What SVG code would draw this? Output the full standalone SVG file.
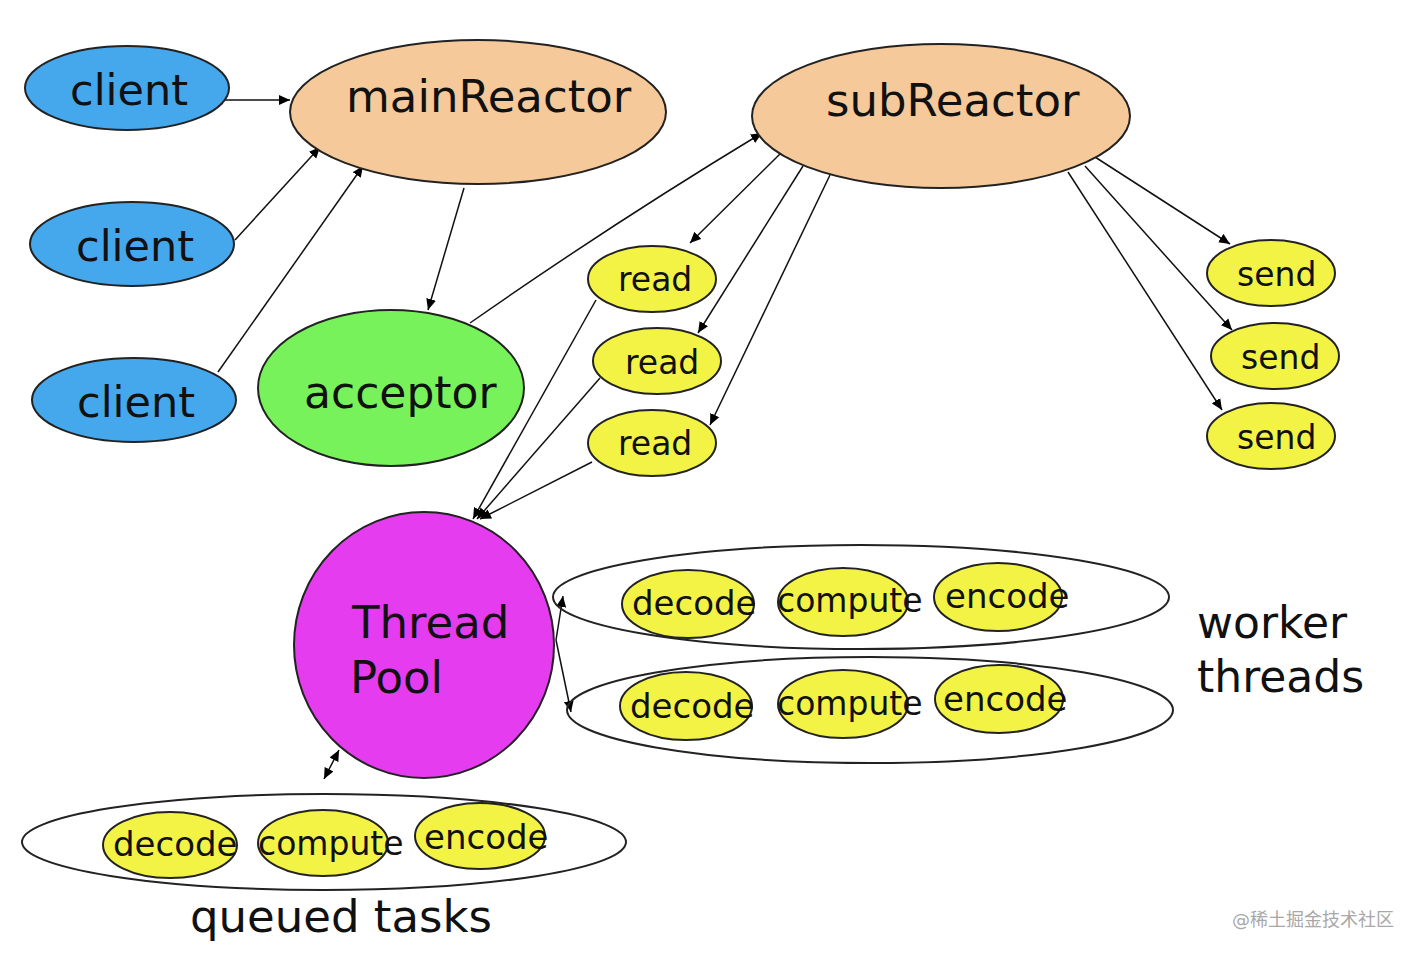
<svg xmlns="http://www.w3.org/2000/svg" width="1418" height="956" viewBox="0 0 1418 956">
<defs>
<marker id="ah" viewBox="0 0 10 10" refX="10" refY="5" markerWidth="11" markerHeight="11" markerUnits="userSpaceOnUse" orient="auto-start-reverse">
<path d="M0,0.5 L10,5 L0,9.5 Z" fill="#000"/>
</marker>
<style>
text{font-family:"DejaVu Sans","Liberation Sans",sans-serif;fill:#111}
.big{font-size:45px}
.mid{font-size:33px}
.sm{font-size:34px}
.n{stroke:#222;stroke-width:2}
.client{fill:#45a8ec}
.reactor{fill:#f5c99a}
.acc{fill:#78f25a}
.y{fill:#f3f345}
.tp{fill:#e63cf0}
.grp{fill:none;stroke:#222;stroke-width:2}
.c{fill:none;stroke:#111;stroke-width:1.5;marker-end:url(#ah)}
</style>
</defs>
<rect width="1418" height="956" fill="#fff"/>

<g id="connectors">
<path class="c" d="M216,100 L290,100"/>
<path class="c" d="M235,240 L320,147"/>
<path class="c" d="M218,372 L363,166"/>
<path class="c" d="M464,188 L428,310"/>
<path class="c" d="M470,323 Q610,225 762,133"/>
<path class="c" d="M782,152 L690,243"/>
<path class="c" d="M803,166 L698,333"/>
<path class="c" d="M830,175 L710,425"/>
<path class="c" d="M1095,157 L1230,244"/>
<path class="c" d="M1085,166 L1232,330"/>
<path class="c" d="M1068,172 L1222,410"/>
<path class="c" d="M596,300 L473,519"/>
<path class="c" d="M600,378 L477,519"/>
<path class="c" d="M592,462 L480,519"/>
<path class="c" d="M556,640 L563,596"/>
<path class="c" d="M556,640 L571,712"/>
<path class="c" style="marker-start:url(#ah)" d="M339,750 L324,779"/>
</g>

<g id="client1"><ellipse class="n client" cx="127" cy="88" rx="102" ry="42"/><text class="big" x="70" y="105" style="font-size:43px">client</text></g>
<g id="client2"><ellipse class="n client" cx="132" cy="244" rx="102" ry="42"/><text class="big" x="76" y="261" style="font-size:43px">client</text></g>
<g id="client3"><ellipse class="n client" cx="134" cy="400" rx="102" ry="42"/><text class="big" x="77" y="417" style="font-size:43px">client</text></g>

<g id="mainReactor"><ellipse class="n reactor" cx="478" cy="112" rx="188" ry="72"/><text class="big" x="346" y="112">mainReactor</text></g>
<g id="subReactor"><ellipse class="n reactor" cx="941" cy="116" rx="189" ry="72"/><text class="big" x="826" y="116">subReactor</text></g>

<g id="acceptor"><ellipse class="n acc" cx="391" cy="388" rx="133" ry="78"/><text class="big" x="304" y="408" style="font-size:44px">acceptor</text></g>

<g id="read1"><ellipse class="n y" cx="652" cy="279" rx="64" ry="33"/><text class="mid" x="618" y="291">read</text></g>
<g id="read2"><ellipse class="n y" cx="657" cy="361" rx="64" ry="33"/><text class="mid" x="625" y="374">read</text></g>
<g id="read3"><ellipse class="n y" cx="652" cy="443" rx="64" ry="33"/><text class="mid" x="618" y="455">read</text></g>

<g id="send1"><ellipse class="n y" cx="1271" cy="273" rx="64" ry="33"/><text class="mid" x="1237" y="286">send</text></g>
<g id="send2"><ellipse class="n y" cx="1275" cy="356" rx="64" ry="33"/><text class="mid" x="1241" y="369">send</text></g>
<g id="send3"><ellipse class="n y" cx="1271" cy="436" rx="64" ry="33"/><text class="mid" x="1237" y="449">send</text></g>

<g id="threadPool"><ellipse class="n tp" cx="424" cy="645" rx="130" ry="133"/><text class="big" x="352" y="638">Thread</text><text class="big" x="350" y="693">Pool</text></g>

<g id="worker1">
<ellipse class="grp" cx="861" cy="597" rx="308" ry="52"/>
<ellipse class="n y" cx="688" cy="604" rx="66" ry="34"/>
<ellipse class="n y" cx="843" cy="602" rx="65" ry="34"/>
<ellipse class="n y" cx="998" cy="597" rx="64" ry="34"/>
<text class="sm" x="632" y="615">decode</text>
<text class="sm" x="777" y="612" style="font-size:33px">compute</text>
<text class="sm" x="945" y="608">encode</text>
</g>
<g id="worker2">
<ellipse class="grp" cx="870" cy="710" rx="303" ry="53"/>
<ellipse class="n y" cx="686" cy="706" rx="66" ry="34"/>
<ellipse class="n y" cx="843" cy="704" rx="65" ry="34"/>
<ellipse class="n y" cx="999" cy="699" rx="64" ry="34"/>
<text class="sm" x="630" y="718">decode</text>
<text class="sm" x="777" y="715" style="font-size:33px">compute</text>
<text class="sm" x="943" y="711">encode</text>
</g>
<g id="queued">
<ellipse class="grp" cx="324" cy="842" rx="302" ry="48"/>
<ellipse class="n y" cx="170" cy="845" rx="67" ry="33"/>
<ellipse class="n y" cx="323" cy="843" rx="65" ry="33"/>
<ellipse class="n y" cx="480" cy="836" rx="65" ry="33"/>
<text class="sm" x="113" y="856">decode</text>
<text class="sm" x="258" y="855" style="font-size:33px">compute</text>
<text class="sm" x="424" y="849">encode</text>
</g>

<g id="labels">
<text class="big" x="1197" y="638" style="font-size:44px">worker</text>
<text class="big" x="1197" y="692" style="font-size:44px">threads</text>
<text class="big" x="190" y="932">queued tasks</text>
<text x="1232" y="926" style="font-size:18px;fill:#a8a8a8;font-family:'DejaVu Sans','Noto Sans CJK SC',sans-serif">@稀土掘金技术社区</text>
</g>
</svg>
